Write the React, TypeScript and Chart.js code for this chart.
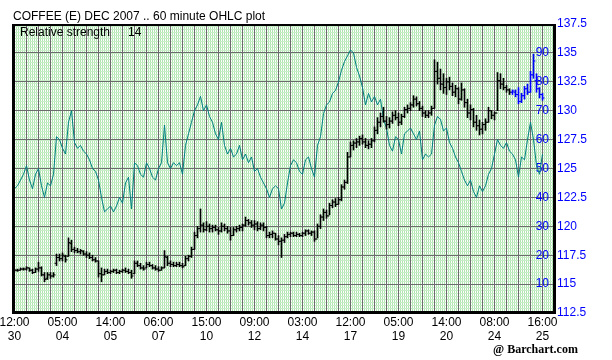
import React, { useEffect, useRef } from 'react';
import { Chart, registerables } from 'chart.js';

Chart.register(...registerables);

const titleText = 'COFFEE (E) DEC 2007 .. 60 minute OHLC plot';
const studyText = 'Relative strength';
const studyPeriod = '14';
const creditText = '@ Barchart.com';

const timeLabels = ['12:00', '05:00', '14:00', '06:00', '15:00', '09:00', '03:00', '12:00', '05:00', '14:00', '08:00', '16:00'];
const dateLabels = ['30', '04', '05', '07', '10', '12', '14', '17', '19', '20', '24', '25'];
const barsPerLabel = 16;
const barsPerGrid = 4;

const priceLabels = [112.5, 115, 117.5, 120, 122.5, 125, 127.5, 130, 132.5, 135, 137.5];
const priceGridStep = 1.25;
const rsiLabels = [10, 20, 30, 40, 50, 60, 70, 80, 90];
const blueFrom = 166;

const open = [
  116.2, 116.2, 116.2, 116.3, 116.3, 116.4, 116.2, 116.0, 116.3, 116.4,
  115.8, 115.5, 115.8, 115.7, 116.8, 117.3, 117.2, 117.4, 117.4, 118.5,
  118.0, 117.9, 117.8, 117.8, 117.6, 117.5, 117.3, 117.1, 117.0, 115.9,
  115.8, 116.1, 116.0, 116.1, 116.2, 116.0, 116.1, 116.2, 116.1, 116.0,
  115.9, 116.8, 116.6, 116.4, 116.4, 116.7, 116.6, 116.4, 116.3, 116.2,
  116.4, 117.3, 116.8, 116.7, 116.6, 116.7, 116.6, 116.6, 117.2, 117.4,
  118.0, 119.2, 119.8, 120.1, 119.7, 120.0, 119.8, 119.9, 119.7, 119.6,
  120.0, 119.8, 119.6, 119.2, 119.7, 119.8, 119.9, 120.1, 120.5, 120.3,
  120.1, 120.2, 119.8, 120.1, 119.9, 119.2, 119.3, 119.4, 118.9, 118.7,
  118.8, 119.1, 119.3, 119.4, 119.2, 119.3, 119.2, 119.4, 119.6, 119.4,
  119.5, 118.9, 120.0, 120.8, 121.2, 120.9, 121.8, 122.1, 121.9, 122.3,
  123.4, 123.8, 126.0, 127.0, 127.2, 127.3, 127.6, 127.3, 127.0, 127.1,
  127.4, 128.3, 129.0, 129.5, 129.1, 128.8, 129.1, 129.6, 129.4, 129.0,
  129.5, 130.1, 130.2, 130.5, 131.0, 130.6, 130.2, 129.8, 129.6, 129.8,
  130.2, 133.4, 132.8, 132.3, 132.0, 132.5, 132.1, 131.6, 131.9, 131.0,
  131.8, 130.7, 129.8, 130.1, 129.0, 128.7, 128.4, 128.8, 129.0, 130.0,
  129.6, 129.8, 132.6, 132.3, 132.0, 131.8, 131.6, 131.6, 131.4, 130.8,
  131.3, 131.9, 131.6, 133.1, 132.6, 131.9, 131.4,
];

const high = [
  116.3, 116.3, 116.4, 116.4, 116.5, 116.4, 116.3, 116.4, 116.9, 116.5,
  116.0, 116.0, 116.0, 116.0, 117.6, 117.6, 117.7, 117.5, 119.0, 118.8,
  118.2, 118.1, 118.0, 117.9, 117.8, 117.7, 117.5, 117.3, 117.0, 116.4,
  116.3, 116.3, 116.2, 116.3, 116.3, 116.2, 116.3, 116.4, 116.3, 116.2,
  117.0, 117.0, 116.8, 116.6, 116.9, 116.9, 116.7, 116.6, 116.5, 116.5,
  117.9, 117.4, 117.0, 116.9, 116.9, 116.9, 116.8, 117.4, 117.5, 118.2,
  119.5, 120.0, 121.5, 120.3, 120.4, 120.2, 120.1, 120.1, 119.9, 120.3,
  120.2, 120.0, 119.9, 119.9, 120.0, 120.1, 120.2, 120.8, 120.6, 120.5,
  120.5, 120.4, 120.3, 120.3, 120.0, 119.5, 119.6, 119.4, 119.2, 119.0,
  119.3, 119.5, 119.5, 119.5, 119.5, 119.4, 119.5, 119.7, 119.7, 119.6,
  119.6, 120.2, 121.0, 121.5, 121.4, 122.0, 122.3, 122.4, 122.5, 123.6,
  124.0, 126.4, 127.3, 127.4, 127.6, 127.8, 127.9, 127.6, 127.4, 127.6,
  128.6, 129.4, 129.8, 130.3, 129.5, 129.4, 129.9, 130.0, 129.8, 129.7,
  130.3, 130.5, 130.7, 131.3, 131.2, 130.8, 130.4, 130.0, 130.0, 130.4,
  134.4, 134.2, 133.6, 133.2, 132.8, 132.9, 132.4, 132.2, 132.0, 132.4,
  131.9, 131.0, 130.5, 130.2, 129.6, 129.2, 129.0, 129.3, 130.3, 130.0,
  129.9, 133.3, 133.2, 132.8, 132.2, 131.9, 131.8, 131.8, 132.0, 131.5,
  132.1, 132.3, 133.4, 134.9, 133.2, 132.0, 131.5,
];

const low = [
  116.1, 116.1, 116.2, 116.2, 116.2, 116.1, 115.9, 116.0, 116.1, 115.7,
  115.2, 115.4, 115.5, 115.6, 116.6, 117.0, 117.0, 116.9, 117.4, 117.8,
  117.7, 117.7, 117.6, 117.5, 117.3, 117.2, 117.0, 116.9, 115.6, 115.2,
  115.8, 115.9, 115.9, 116.0, 115.9, 115.9, 116.0, 116.0, 115.9, 115.5,
  115.9, 116.5, 116.3, 116.2, 116.4, 116.5, 116.3, 116.2, 116.1, 116.2,
  116.4, 116.6, 116.5, 116.5, 116.5, 116.5, 116.4, 116.6, 117.0, 117.3,
  118.0, 119.0, 119.5, 119.5, 119.6, 119.5, 119.5, 119.6, 119.3, 119.5,
  119.6, 119.4, 118.8, 119.2, 119.5, 119.6, 119.6, 120.0, 120.1, 119.9,
  119.7, 119.6, 119.7, 119.6, 119.0, 119.0, 119.0, 118.8, 118.4, 117.3,
  118.6, 119.0, 119.1, 119.1, 119.1, 119.1, 119.1, 119.2, 119.3, 119.2,
  118.7, 119.0, 119.8, 120.5, 120.7, 121.0, 121.6, 121.7, 121.9, 122.2,
  123.2, 123.7, 126.0, 126.6, 126.8, 127.0, 127.1, 126.8, 126.7, 126.8,
  127.3, 128.0, 128.6, 129.0, 128.4, 128.5, 128.9, 129.2, 128.7, 128.8,
  129.4, 129.8, 130.0, 130.3, 130.4, 130.0, 129.5, 129.4, 129.4, 129.6,
  130.2, 132.3, 131.8, 131.5, 131.4, 131.8, 131.3, 131.2, 130.6, 130.9,
  130.3, 129.4, 129.2, 128.6, 128.3, 127.9, 128.0, 128.3, 129.0, 129.3,
  129.2, 130.0, 131.9, 131.8, 131.6, 131.4, 131.4, 131.2, 130.6, 130.7,
  131.0, 131.4, 131.6, 132.8, 131.6, 131.1, 130.9,
];

const close = [
  116.2, 116.2, 116.3, 116.3, 116.4, 116.2, 116.0, 116.3, 116.4, 115.8,
  115.4, 115.8, 115.7, 115.8, 117.3, 117.2, 117.5, 117.1, 118.6, 118.0,
  117.9, 117.8, 117.9, 117.6, 117.5, 117.3, 117.1, 117.0, 115.9, 115.8,
  116.1, 116.0, 116.1, 116.2, 116.0, 116.1, 116.2, 116.1, 116.0, 115.7,
  116.8, 116.6, 116.4, 116.3, 116.7, 116.6, 116.4, 116.3, 116.2, 116.4,
  117.4, 116.8, 116.7, 116.6, 116.7, 116.6, 116.5, 117.2, 117.4, 118.0,
  119.2, 119.8, 120.1, 119.7, 120.0, 119.8, 119.9, 119.7, 119.6, 120.0,
  119.8, 119.6, 119.2, 119.7, 119.8, 119.9, 120.1, 120.5, 120.3, 120.1,
  120.2, 119.8, 120.1, 119.9, 119.2, 119.3, 119.4, 118.9, 118.7, 118.8,
  119.1, 119.3, 119.4, 119.2, 119.3, 119.2, 119.4, 119.6, 119.4, 119.5,
  118.9, 120.0, 120.8, 121.2, 120.9, 121.8, 122.1, 121.9, 122.3, 123.4,
  123.8, 126.0, 127.0, 127.2, 127.3, 127.6, 127.3, 127.0, 127.1, 127.4,
  128.3, 129.0, 129.5, 129.1, 128.8, 129.1, 129.6, 129.4, 129.0, 129.5,
  130.1, 130.2, 130.5, 131.0, 130.6, 130.2, 129.8, 129.6, 129.8, 130.2,
  133.4, 132.8, 132.3, 132.0, 132.5, 132.1, 131.6, 131.9, 131.0, 131.8,
  130.7, 129.8, 130.1, 129.0, 128.7, 128.4, 128.8, 129.0, 130.0, 129.6,
  129.8, 132.6, 132.3, 132.0, 131.8, 131.6, 131.7, 131.4, 130.8, 131.3,
  131.9, 131.6, 133.1, 134.3, 131.9, 131.4, 131.1,
];

const rsi = [
  43, 44, 46, 48, 51, 46, 43, 48, 50, 44,
  40, 45, 44, 48, 61, 60, 57, 55, 66, 70,
  59, 57, 58, 56, 55, 53, 50, 49, 46, 40,
  35, 36, 37, 35, 37, 40, 38, 45, 47, 36,
  52, 51, 48, 47, 52, 50, 47, 46, 50, 52,
  65, 52, 50, 52, 51, 52, 48, 58, 62, 66,
  70, 72, 75, 70, 72, 68, 66, 62, 60, 66,
  58, 55, 57, 54, 55, 58, 53, 55, 52, 54,
  49, 50, 47, 45, 43, 40, 43, 44, 43, 36,
  38, 45, 51, 53, 52, 49, 48, 53, 54, 50,
  47, 58, 61, 69, 72, 73, 76, 77, 80, 84,
  87, 89, 91, 90, 85, 82, 78, 72, 76, 73,
  75, 72, 74, 67, 64, 58, 56, 61, 60, 55,
  62, 63, 64, 62, 60, 63, 53, 55, 54, 55,
  65, 68, 67, 63, 64, 59, 57, 54, 52, 49,
  46, 44, 46, 42, 40, 44, 42, 44, 48, 50,
  55, 60, 58, 57, 59, 56, 55, 53, 47, 54,
  53, 60, 66, 60, 51, 48, 55,
];

const FONT = '"Liberation Sans", Arial, sans-serif';

function makePattern(ctx: CanvasRenderingContext2D): CanvasPattern | string {
  const c = document.createElement('canvas');
  c.width = 2;
  c.height = 3;
  const p = c.getContext('2d');
  if (!p) return '#c8ecc8';
  p.fillStyle = '#b0e4b0';
  p.fillRect(0, 0, 2, 3);
  p.fillStyle = '#ffffff';
  p.fillRect(1, 0, 1, 2);
  p.fillStyle = '#c8eec8';
  p.fillRect(0, 2, 2, 1);
  return ctx.createPattern(c, 'repeat') || '#c8ecc8';
}

export default function App() {
  const ref = useRef<HTMLCanvasElement | null>(null);

  useEffect(() => {
    const canvas = ref.current;
    if (!canvas) return;
    const ctx0 = canvas.getContext('2d');
    if (!ctx0) return;
    const pattern = makePattern(ctx0);
    const colors = close.map((_, i) => (i >= blueFrom ? '#0000ff' : '#000000'));

    const decor = {
      id: 'decor',
      beforeDraw(chart: any) {
        const { ctx, chartArea } = chart;
        ctx.save();
        ctx.fillStyle = '#ffffff';
        ctx.fillRect(0, 0, chart.width, chart.height);
        ctx.fillStyle = pattern;
        ctx.fillRect(chartArea.left, chartArea.top, chartArea.right - chartArea.left, chartArea.bottom - chartArea.top);
        ctx.restore();
      },
      afterDraw(chart: any) {
        const { ctx, chartArea } = chart;
        const l = Math.round(chartArea.left);
        const r = Math.round(chartArea.right);
        const t = Math.round(chartArea.top);
        const b = Math.round(chartArea.bottom);
        ctx.save();
        ctx.fillStyle = '#000000';
        ctx.fillRect(l - 1, t, r - l + 4, 2);
        ctx.fillRect(l - 1, t, 3, b - t + 1);
        ctx.fillRect(r, t, 3, b - t + 1);
        ctx.fillRect(l - 1, b - 2, r - l + 4, 3);
        ctx.textBaseline = 'alphabetic';
        ctx.textAlign = 'left';
        ctx.font = '12px ' + FONT;
        ctx.fillText(titleText, 13, 20);
        ctx.fillText(studyText, 20, 36);
        ctx.fillText(studyPeriod, 128, 36);
        ctx.font = 'bold 12px "Liberation Serif", "Times New Roman", serif';
        ctx.fillText(creditText, 493, 353);
        ctx.restore();
      },
    };

    const chart = new Chart(canvas, {
      type: 'bar',
      data: {
        datasets: [
          {
            type: 'line',
            label: 'RSI',
            data: rsi.map((v, i) => ({ x: i, y: v })),
            yAxisID: 'rsi',
            borderColor: '#008080',
            borderWidth: 1,
            pointRadius: 0,
            tension: 0,
            order: 3,
          } as any,
          {
            type: 'bar',
            label: 'High-Low',
            data: high.map((h, i) => ({ x: i, y: [low[i], h] })),
            yAxisID: 'y',
            backgroundColor: colors,
            borderWidth: 0,
            barThickness: 1,
            grouped: false,
            order: 2,
          } as any,
          {
            type: 'line',
            label: 'Open',
            data: open.map((v, i) => ({ x: i, y: v })),
            yAxisID: 'y',
            showLine: false,
            pointStyle: 'dash',
            pointRadius: 2,
            pointRotation: 180,
            pointBorderColor: colors,
            pointBackgroundColor: colors,
            pointBorderWidth: 1,
            order: 1,
          } as any,
          {
            type: 'line',
            label: 'Close',
            data: close.map((v, i) => ({ x: i, y: v })),
            yAxisID: 'y',
            showLine: false,
            pointStyle: 'dash',
            pointRadius: 2,
            pointRotation: 0,
            pointBorderColor: colors,
            pointBackgroundColor: colors,
            pointBorderWidth: 1,
            order: 1,
          } as any,
        ],
      },
      options: {
        responsive: false,
        animation: false,
        devicePixelRatio: 1,
        layout: { padding: { left: 13, top: 24, right: 0, bottom: 0 } },
        plugins: { legend: { display: false }, tooltip: { enabled: false }, title: { display: false } },
        events: [],
        scales: {
          x: {
            type: 'linear',
            offset: false,
            min: -0.5,
            max: 179.5,
            border: { display: false },
            grid: { color: '#6c6c6c', lineWidth: 1, drawTicks: false, offset: false },
            afterBuildTicks: (scale: any) => {
              const t: any[] = [];
              for (let v = 0; v <= (timeLabels.length - 1) * barsPerLabel; v += barsPerGrid) t.push({ value: v });
              scale.ticks = t;
            },
            afterFit: (scale: any) => {
              scale.height = 47;
              scale.paddingLeft = 0;
              scale.paddingRight = 0;
            },
            ticks: {
              autoSkip: false,
              maxRotation: 0,
              minRotation: 0,
              padding: 3,
              color: '#000000',
              font: { family: FONT, size: 12, lineHeight: 1.15 },
              callback: (v: any) => {
                const n = Number(v);
                if (n % barsPerLabel !== 0) return '';
                const k = n / barsPerLabel;
                return [timeLabels[k], dateLabels[k]];
              },
            },
          },
          rsi: {
            type: 'linear',
            position: 'right',
            min: 0,
            max: 100,
            weight: 0,
            border: { display: false },
            grid: { display: false, drawTicks: false },
            afterBuildTicks: (scale: any) => {
              scale.ticks = rsiLabels.map((v) => ({ value: v }));
            },
            afterFit: (scale: any) => {
              scale.width = 0;
              scale.paddingTop = 0;
              scale.paddingBottom = 0;
            },
            ticks: {
              mirror: true,
              padding: -4,
              color: '#0000ff',
              font: { family: FONT, size: 12 },
              callback: (v: any) => String(v),
            },
          },
          y: {
            type: 'linear',
            position: 'right',
            min: priceLabels[0],
            max: priceLabels[priceLabels.length - 1],
            weight: 1,
            border: { display: false },
            grid: { color: '#6c6c6c', lineWidth: 1, drawTicks: false },
            afterBuildTicks: (scale: any) => {
              const t: any[] = [];
              const lo = priceLabels[0];
              const hi = priceLabels[priceLabels.length - 1];
              for (let v = lo; v <= hi + 1e-9; v += priceGridStep) t.push({ value: v });
              scale.ticks = t;
            },
            afterFit: (scale: any) => {
              scale.width = 59;
              scale.paddingTop = 0;
              scale.paddingBottom = 0;
            },
            ticks: {
              padding: 4,
              color: '#0000ff',
              font: { family: FONT, size: 12 },
              callback: (v: any) => {
                const n = Number(v);
                return priceLabels.some((p) => Math.abs(p - n) < 1e-6) ? String(n) : '';
              },
            },
          },
        },
      } as any,
      plugins: [decor],
    });

    return () => {
      chart.destroy();
    };
  }, []);

  return (
    <div style={{ position: 'fixed', left: 0, top: 0, width: 612, height: 360, background: '#ffffff' }}>
      <canvas ref={ref} width={612} height={360} style={{ width: 612, height: 360, display: 'block' }} />
    </div>
  );
}
